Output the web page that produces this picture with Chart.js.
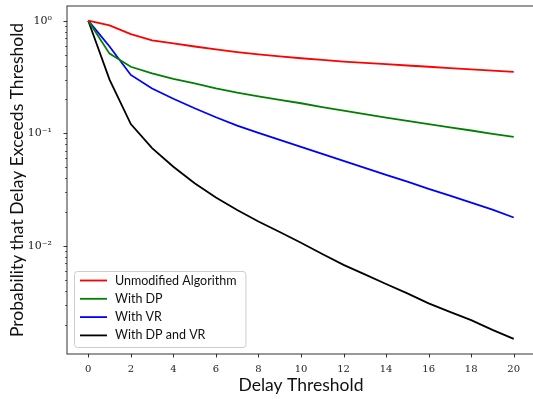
<!DOCTYPE html>
<html lang="en">
<head>
  <meta charset="UTF-8">
  <title>Delay threshold</title>
  <script src="https://cdn.jsdelivr.net/npm/chart.js"></script>
  <style>
    html, body { margin: 0; padding: 0; background: #fff; overflow: hidden; }
    #wrap { width: 545px; height: 399px; }
  </style>
</head>
<body>
<div id="wrap"><canvas id="c" width="545" height="399"></canvas></div>
<script>
  // data
  const delays = [0,1,2,3,4,5,6,7,8,9,10,11,12,13,14,15,16,17,18,19,20];
  const unmodified = [1, 0.91, 0.76, 0.67, 0.63, 0.59, 0.557, 0.527, 0.503, 0.483, 0.464, 0.448, 0.433, 0.422, 0.411, 0.400, 0.390, 0.380, 0.370, 0.360, 0.351];
  const withDP = [1, 0.51, 0.39, 0.34, 0.305, 0.278, 0.251, 0.230, 0.213, 0.198, 0.185, 0.171, 0.159, 0.148, 0.138, 0.129, 0.121, 0.113, 0.106, 0.099, 0.093];
  const withVR = [1, 0.59, 0.33, 0.25, 0.203, 0.167, 0.139, 0.117, 0.101, 0.0875, 0.0757, 0.0656, 0.0569, 0.0494, 0.0428, 0.0372, 0.0322, 0.0280, 0.0243, 0.0210, 0.0179];
  const withDPVR = [1, 0.30, 0.121, 0.074, 0.0505, 0.036, 0.027, 0.0209, 0.0165, 0.0133, 0.0107, 0.0085, 0.0068, 0.0056, 0.0046, 0.0038, 0.0031, 0.0026, 0.0022, 0.0018, 0.0015];
  const seriesNames = ['Unmodified Algorithm', 'With DP', 'With VR', 'With DP and VR'];
  const seriesColors = ['#ff0000', '#008000', '#0000ff', '#000000'];
  const xTicks = [0,2,4,6,8,10,12,14,16,18,20];
  const yMajor = [1e-2, 1e-1, 1];
  const yLabels = {'0.01': '10\u207B\u00B2', '0.1': '10\u207B\u00B9', '1': '10\u2070'};

  const serif = '"DejaVu Serif", "Liberation Serif", serif';
  const sans = 'Lato, "DejaVu Sans", sans-serif';

  const allSeries = [unmodified, withDP, withVR, withDPVR];
  const datasets = allSeries.map((s, i) => ({
    label: seriesNames[i],
    data: delays.map((d, j) => ({x: d, y: s[j]})),
    borderColor: seriesColors[i],
    borderWidth: 1.8,
    pointRadius: 0,
    tension: 0,
    fill: false
  }));

  // frame, outward ticks (with log minors) and legend box
  const decorations = {
    id: 'decorations',
    afterDraw(chart) {
      const ctx = chart.ctx, a = chart.chartArea;
      const xs = chart.scales.x, ys = chart.scales.y;
      ctx.save();
      ctx.strokeStyle = '#000';
      ctx.lineWidth = 0.8;
      ctx.strokeRect(a.left, a.top, a.right - a.left, a.bottom - a.top);

      ctx.beginPath();
      xTicks.forEach(v => {
        const px = Math.round(xs.getPixelForValue(v)) + 0.5;
        ctx.moveTo(px, a.bottom); ctx.lineTo(px, a.bottom + 3.5);
      });
      ctx.stroke();

      for (let k = -3; k <= 0; k++) {
        for (let m = 1; m <= 9; m++) {
          const v = m * Math.pow(10, k);
          if (v < ys.min || v > ys.max) continue;
          const py = Math.round(ys.getPixelForValue(v)) + 0.5;
          const len = m === 1 ? 3.5 : 2;
          ctx.lineWidth = m === 1 ? 0.8 : 0.6;
          ctx.beginPath();
          ctx.moveTo(a.left, py); ctx.lineTo(a.left - len, py);
          ctx.stroke();
        }
      }

      // legend
      ctx.font = '12.5px ' + sans;
      const rowH = 18.3;
      let tw = 0;
      seriesNames.forEach(n => { tw = Math.max(tw, ctx.measureText(n).width); });
      const bw = 41 + tw + 9;
      const bh = 76;
      const bx = a.left + 7, by = a.bottom - 7 - bh;
      ctx.fillStyle = 'rgba(255,255,255,0.8)';
      ctx.strokeStyle = '#cccccc';
      ctx.lineWidth = 1;
      ctx.beginPath();
      ctx.roundRect(bx + 0.5, by + 0.5, bw, bh, 3);
      ctx.fill(); ctx.stroke();
      ctx.textBaseline = 'middle';
      seriesNames.forEach((n, i) => {
        const cy = by + 9.5 + rowH * i;
        ctx.strokeStyle = seriesColors[i];
        ctx.lineWidth = 1.8;
        ctx.beginPath();
        ctx.moveTo(bx + 6, cy); ctx.lineTo(bx + 33, cy);
        ctx.stroke();
        ctx.fillStyle = '#111';
        ctx.fillText(n, bx + 41, cy);
      });
      ctx.restore();
    }
  };

  new Chart(document.getElementById('c'), {
    type: 'line',
    data: { datasets },
    options: {
      responsive: false,
      animation: false,
      layout: { padding: { top: 6, right: 10, left: 0, bottom: 0 } },
      plugins: { legend: { display: false }, tooltip: { enabled: false } },
      scales: {
        x: {
          type: 'linear',
          min: -1, max: 21,
          afterBuildTicks: s => { s.ticks = xTicks.map(v => ({value: v})); },
          afterFit: s => { s.height = 45; s.paddingLeft = 0; s.paddingRight = 0; },
          grid: { display: false },
          border: { display: false },
          ticks: { color: '#222', font: { family: serif, size: 10 }, padding: 1, maxRotation: 0 },
          title: { display: true, text: 'Delay Threshold', color: '#111',
                   font: { family: sans, size: 17.5 }, padding: { top: 0, bottom: 3 } }
        },
        y: {
          type: 'logarithmic',
          min: 0.0011, max: 1.35,
          afterBuildTicks: s => { s.ticks = yMajor.map(v => ({value: v})); },
          afterFit: s => { s.width = 67; s.paddingTop = 0; s.paddingBottom = 0; },
          grid: { display: false },
          border: { display: false },
          ticks: { color: '#222', font: { family: serif, size: 11 }, padding: 7,
                   callback: v => yLabels[String(v)] || '' },
          title: { display: true, text: 'Probability that Delay Exceeds Threshold', color: '#111',
                   font: { family: sans, size: 17.5 }, padding: { top: 7, bottom: 0 } }
        }
      }
    },
    plugins: [decorations]
  });
</script>
</body>
</html>
